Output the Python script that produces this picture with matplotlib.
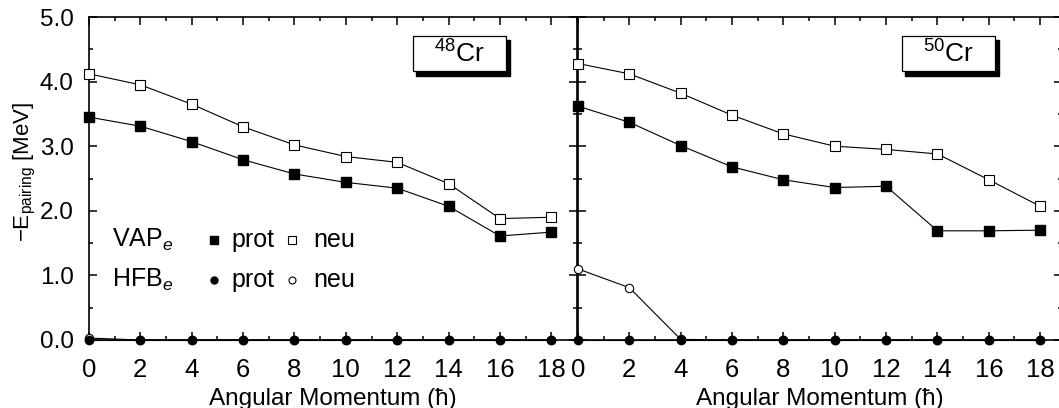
import numpy as np
import matplotlib
matplotlib.use("Agg")
import matplotlib.pyplot as plt
from matplotlib.patches import Rectangle
from matplotlib.ticker import MultipleLocator, FormatStrFormatter

plt.rcParams['font.family'] = ['Liberation Sans', 'DejaVu Sans']
plt.rcParams['mathtext.fontset'] = 'custom'
plt.rcParams['mathtext.rm'] = 'Liberation Sans'
plt.rcParams['mathtext.it'] = 'Liberation Sans:italic'

spin = [0, 2, 4, 6, 8, 10, 12, 14, 16, 18]

# 48Cr
vap_prot_48 = [3.45, 3.31, 3.07, 2.79, 2.57, 2.44, 2.35, 2.07, 1.61, 1.67]
vap_neu_48 = [4.12, 3.95, 3.65, 3.30, 3.02, 2.84, 2.75, 2.42, 1.88, 1.90]
hfb_prot_48 = [0, 0, 0, 0, 0, 0, 0, 0, 0, 0]
hfb_neu_48 = [0.03, 0, 0, 0, 0, 0, 0, 0, 0, 0]

# 50Cr
vap_prot_50 = [3.62, 3.37, 3.01, 2.68, 2.48, 2.36, 2.38, 1.69, 1.69, 1.70]
vap_neu_50 = [4.28, 4.12, 3.82, 3.48, 3.19, 3.00, 2.95, 2.88, 2.48, 2.07]
hfb_prot_50 = [0, 0, 0, 0, 0, 0, 0, 0, 0, 0]
hfb_neu_50 = [1.10, 0.81, 0.01, 0, 0, 0, 0, 0, 0, 0]

nuclei = ['$\\mathregular{^{48}Cr}$', '$\\mathregular{^{50}Cr}$']

W, H = 1059, 408
fig = plt.figure(figsize=(W / 100, H / 100), dpi=100)
ax1 = fig.add_axes([89 / W, 68 / H, 488 / W, 323 / H])
ax2 = fig.add_axes([578 / W, 68 / H, 484 / W, 323 / H])

data = [
    (ax1, vap_prot_48, vap_neu_48, hfb_prot_48, hfb_neu_48, 19.0),
    (ax2, vap_prot_50, vap_neu_50, hfb_prot_50, hfb_neu_50, 18.85),
]

for i, (ax, vp, vn, hp, hn, xmax) in enumerate(data):
    lw = 0.8
    ax.plot(spin, hn, '-', color='black', lw=lw, marker='o', ms=6,
            mfc='white', mec='black', mew=0.8, clip_on=False, zorder=3)
    ax.plot(spin, hp, '-', color='black', lw=lw, marker='o', ms=6,
            mfc='black', mec='black', clip_on=False, zorder=4)
    ax.plot(spin, vn, '-', color='black', lw=lw, marker='s', ms=6.5,
            mfc='white', mec='black', mew=0.8, clip_on=False, zorder=3)
    ax.plot(spin, vp, '-', color='black', lw=lw, marker='s', ms=6.5,
            mfc='black', mec='black', clip_on=False, zorder=3)

    ax.set_xlim(0, xmax)
    ax.set_ylim(0, 5)
    ax.xaxis.set_major_locator(MultipleLocator(2))
    ax.xaxis.set_minor_locator(MultipleLocator(1))
    ax.yaxis.set_major_locator(MultipleLocator(1))
    ax.yaxis.set_minor_locator(MultipleLocator(0.5))
    ax.yaxis.set_major_formatter(FormatStrFormatter('%.1f'))
    ax.tick_params(which='both', direction='in', top=True, right=True,
                   width=1.1)
    ax.tick_params(axis='x', labelsize=18.5, pad=13)
    ax.tick_params(axis='y', labelsize=17.5, pad=11)
    ax.tick_params(which='major', length=5.5)
    ax.tick_params(which='minor', length=3)
    for s in ax.spines.values():
        s.set_linewidth(1.2)
    ax.set_xlabel('Angular Momentum (ħ)', fontsize=17.5, labelpad=4)

    # nucleus label box with shadow
    ax.add_patch(Rectangle((12.75, 4.08), 3.65, 0.57, facecolor='black',
                           edgecolor='black', zorder=5))
    ax.add_patch(Rectangle((12.6, 4.16), 3.65, 0.55, facecolor='white',
                           edgecolor='black', lw=0.9, zorder=6))
    ax.text(14.42, 4.43, nuclei[i], ha='center', va='center', fontsize=19,
            zorder=7)

ax2.tick_params(axis='y', labelleft=False)
ax1.set_ylabel('$-\\mathregular{E_{pairing}}$ [MeV]', fontsize=16)
ax1.yaxis.set_label_coords(-0.105, 0.52)

# legend built by hand inside the left panel
ax1.text(0.9, 1.55, '$\\mathregular{VAP}_{e}$', fontsize=18, va='center')
ax1.text(0.9, 0.93, '$\\mathregular{HFB}_{e}$', fontsize=18, va='center')
ax1.plot([4.85], [1.55], 's', color='black', ms=5.5)
ax1.plot([7.9], [1.55], 's', mfc='white', mec='black', mew=0.8, ms=5.5)
ax1.plot([4.85], [0.93], 'o', color='black', ms=5)
ax1.plot([7.9], [0.93], 'o', mfc='white', mec='black', mew=0.8, ms=5)
for yy in [1.55, 0.93]:
    ax1.text(5.55, yy, 'prot', fontsize=18, va='center')
    ax1.text(8.75, yy, 'neu', fontsize=18, va='center')

fig.savefig('out.png', dpi=100)
